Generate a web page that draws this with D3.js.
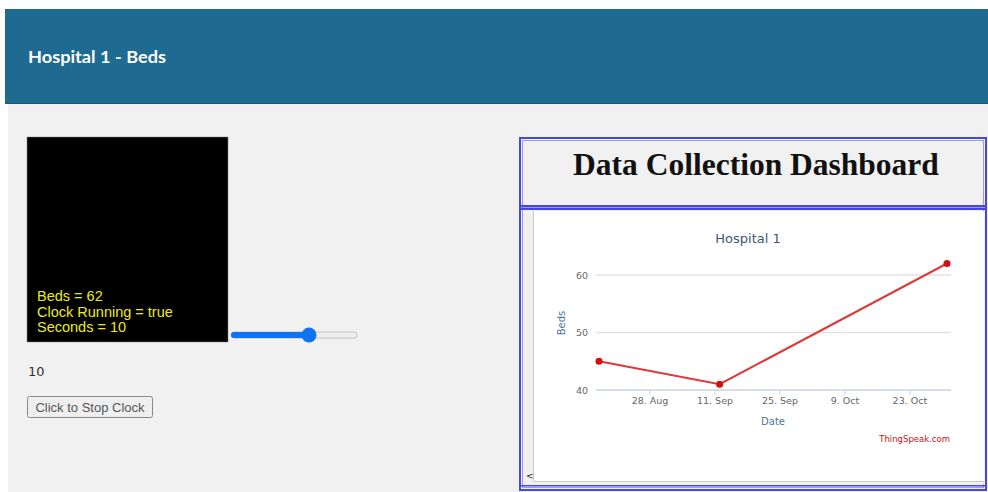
<!DOCTYPE html>
<html><head><meta charset="utf-8">
<script src="https://cdn.jsdelivr.net/npm/d3@7"></script>
<style>html,body{margin:0;padding:0;background:#fff;overflow:hidden}</style>
</head><body>
<svg id="c" width="988" height="492"></svg>
<script>
// ---- data ----
const dates = ["2023-08-17", "2023-09-12", "2023-10-31"];
const beds = [45, 41, 62];
const yTicks = [40, 50, 60];
const xTickDates = ["2023-08-28", "2023-09-11", "2023-09-25", "2023-10-09", "2023-10-23"];
const canvasLines = ["Beds = 62", "Clock Running = true", "Seconds = 10"];
const sliderMin = 0, sliderMax = 16, sliderValue = 10;

const parse = d3.timeParse("%Y-%m-%d");
const svg = d3.select("#c");

// page background
svg.append("rect").attr("x",0).attr("y",0).attr("width",988).attr("height",492).attr("fill","#ffffff");
svg.append("rect").attr("x",8).attr("y",104).attr("width",980).attr("height",388).attr("fill","#f1f1f1");
svg.append("rect").attr("x",5).attr("y",9).attr("width",983).attr("height",95).attr("fill","#1f6a90");
svg.append("line").attr("x1",5).attr("x2",988).attr("y1",103.5).attr("y2",103.5).attr("stroke","#1a5878");
svg.append("text").attr("x",28).attr("y",63).attr("fill","#fff")
  .style("font-family","Lato, 'Open Sans', sans-serif").style("font-weight","bold").style("font-size","17.5px")
  .attr("textLength",138).attr("lengthAdjust","spacingAndGlyphs").text("Hospital 1 - Beds");

// black canvas
svg.append("rect").attr("x",27).attr("y",137).attr("width",201).attr("height",205).attr("fill","#000").attr("stroke","#888").attr("stroke-width",0.5);
svg.append("g").selectAll("text").data(canvasLines).join("text")
  .attr("x",37).attr("y",(d,i)=>301+i*15.5).attr("fill","#ecec10")
  .style("font-family","'Liberation Sans', Arial, sans-serif").style("font-size","14.5px")
  .text(d=>d);

// slider
const sx = d3.scaleLinear().domain([sliderMin, sliderMax]).range([234, 354]);
svg.append("rect").attr("x",231).attr("y",332).attr("width",126).attr("height",6).attr("rx",3)
  .attr("fill","#efefef").attr("stroke","#b5b5b5").attr("stroke-width",0.8);
svg.append("rect").attr("x",231).attr("y",332).attr("width",sx(sliderValue)-231).attr("height",6).attr("rx",3).attr("fill","#0f74f0");
svg.append("circle").attr("cx",sx(sliderValue)).attr("cy",335).attr("r",7.5).attr("fill","#0f74f0");

svg.append("text").attr("x",28).attr("y",376).attr("fill","#333")
  .style("font-family","'DejaVu Sans', sans-serif").style("font-size","13px").text(String(sliderValue));

// button
svg.append("rect").attr("x",27.5).attr("y",396.5).attr("width",125).attr("height",21).attr("rx",2)
  .attr("fill","#efefef").attr("stroke","#8a8a8a");
svg.append("text").attr("x",90).attr("y",412).attr("text-anchor","middle").attr("fill","#555")
  .style("font-family","'Liberation Sans', Arial, sans-serif").style("font-size","13px").text("Click to Stop Clock");

// right panel frame
svg.append("rect").attr("x",520).attr("y",138).attr("width",466).attr("height",352).attr("fill","#f1f1f1")
  .attr("stroke","#4646e6").attr("stroke-width",2);
svg.append("rect").attr("x",522.5).attr("y",140.5).attr("width",461).attr("height",347).attr("fill","none")
  .attr("stroke","#9a9af2").attr("stroke-width",1);
svg.append("text").attr("x",756).attr("y",175).attr("text-anchor","middle").attr("fill","#111")
  .style("font-family","'Liberation Serif', 'Times New Roman', serif").style("font-weight","bold").style("font-size","31.5px")
  .text("Data Collection Dashboard");
// separator
svg.append("rect").attr("x",521).attr("y",205).attr("width",464).attr("height",2).attr("fill","#4646e6");
svg.append("rect").attr("x",521).attr("y",207).attr("width",464).attr("height",1).attr("fill","#9a9af2");
svg.append("rect").attr("x",521).attr("y",208).attr("width",464).attr("height",2).attr("fill","#4646e6");
// inner frame bottom
svg.append("rect").attr("x",521).attr("y",485).attr("width",464).attr("height",1.5).attr("fill","#4646e6");
// chart area
svg.append("rect").attr("x",524).attr("y",211).attr("width",460).attr("height",273).attr("fill","#f0f0f0");
svg.append("rect").attr("x",534).attr("y",211).attr("width",450).attr("height",270).attr("fill","#fff");
svg.append("line").attr("x1",533.5).attr("x2",533.5).attr("y1",211).attr("y2",481).attr("stroke","#c8c8c8");
svg.append("line").attr("x1",534).attr("x2",984).attr("y1",481.5).attr("y2",481.5).attr("stroke","#c8c8c8");
svg.append("text").attr("x",526).attr("y",479).attr("fill","#222")
  .style("font-family","'DejaVu Sans', sans-serif").style("font-size","9px").text("<");

// chart
const x = d3.scaleTime().domain([parse(dates[0]), parse(dates[dates.length-1])]).range([599, 947]);
const y = d3.scaleLinear().domain([40, 60]).range([390, 275]);
const gridX0 = 596, gridX1 = 951;
const font = "'DejaVu Sans', Verdana, sans-serif";

svg.append("g").selectAll("line").data(yTicks).join("line")
  .attr("x1",gridX0).attr("x2",gridX1).attr("y1",d=>y(d)).attr("y2",d=>y(d))
  .attr("stroke",d=>d===40?"#c8d4e0":"#e2e2e2").attr("stroke-width",1.5);
svg.append("g").selectAll("text").data(yTicks).join("text")
  .attr("x",588).attr("y",d=>y(d)+3.5).attr("text-anchor","end").attr("fill","#666")
  .style("font-family",font).style("font-size","9.5px").text(d=>d);

const xt = xTickDates.map(parse);
const fmt = d3.timeFormat("%-d. %b");
svg.append("g").selectAll("line").data(xt).join("line")
  .attr("x1",d=>x(d)).attr("x2",d=>x(d)).attr("y1",390).attr("y2",395).attr("stroke","#c8d4e0");
svg.append("g").selectAll("text").data(xt).join("text")
  .attr("x",d=>x(d)).attr("y",404).attr("text-anchor","middle").attr("fill","#666")
  .style("font-family",font).style("font-size","9.5px").text(d=>fmt(d));

svg.append("text").attr("x",748).attr("y",243).attr("text-anchor","middle").attr("fill","#3e576f")
  .style("font-family",font).style("font-size","13px").text("Hospital 1");
svg.append("text").attr("x",773).attr("y",425).attr("text-anchor","middle").attr("fill","#4d759e")
  .style("font-family",font).style("font-size","10px").text("Date");
svg.append("text").attr("transform","translate(565,323) rotate(-90)").attr("text-anchor","middle").attr("fill","#4d759e")
  .style("font-family",font).style("font-size","10px").text("Beds");
svg.append("text").attr("x",950).attr("y",442).attr("text-anchor","end").attr("fill","#cc1010")
  .style("font-family",font).style("font-size","8.5px").text("ThingSpeak.com");

const pts = dates.map((d,i)=>({d:parse(d), v:beds[i]}));
svg.append("path").datum(pts).attr("fill","none").attr("stroke","#db3a3a").attr("stroke-width",2)
  .attr("d", d3.line().x(p=>x(p.d)).y(p=>y(p.v)));
svg.append("g").selectAll("circle").data(pts).join("circle")
  .attr("cx",p=>x(p.d)).attr("cy",p=>y(p.v)).attr("r",3.5).attr("fill","#d40f0f");
</script>
</body></html>
